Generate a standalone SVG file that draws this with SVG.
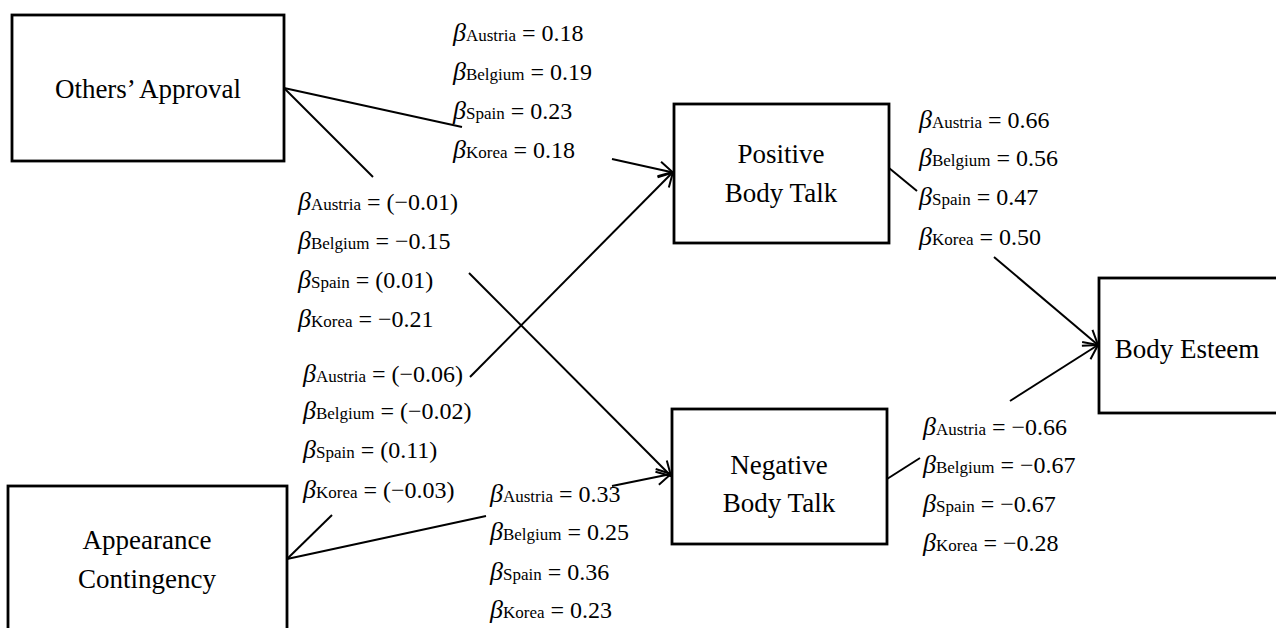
<svg xmlns="http://www.w3.org/2000/svg" width="1276" height="628" viewBox="0 0 1276 628">
<style>
.box{fill:#fff;stroke:#000;stroke-width:2.8}
.nt{font-family:"Liberation Serif",serif;font-size:27px;fill:#000;text-anchor:middle}
.lbl{font-family:"Liberation Serif",serif;font-size:24px;fill:#000}
.b{font-style:italic;font-size:26px}
.s{font-size:17px}
.ln{stroke:#000;stroke-width:2;fill:none}
</style>
<defs>
<marker id="arr" markerUnits="userSpaceOnUse" markerWidth="24" markerHeight="24" refX="16" refY="12" orient="auto" viewBox="0 0 24 24">
<path d="M2,4 L16,12 L2,20" fill="none" stroke="#000" stroke-width="2"/>
</marker>
</defs>
<rect width="1276" height="628" fill="#fff"/>
<g id="connectors">
<line class="ln" x1="284" y1="88" x2="462" y2="127"/>
<line class="ln" x1="612" y1="159" x2="673" y2="172.5" marker-end="url(#arr)"/>
<line class="ln" x1="284" y1="88" x2="373" y2="177"/>
<line class="ln" x1="469" y1="273" x2="671" y2="476" marker-end="url(#arr)"/>
<line class="ln" x1="287" y1="559" x2="332" y2="515"/>
<line class="ln" x1="470" y1="377" x2="673" y2="172" marker-end="url(#arr)"/>
<line class="ln" x1="287" y1="559" x2="486" y2="516"/>
<line class="ln" x1="612" y1="486" x2="671" y2="474" marker-end="url(#arr)"/>
<line class="ln" x1="889" y1="168" x2="917" y2="191"/>
<line class="ln" x1="994" y1="257" x2="1098" y2="345" marker-end="url(#arr)"/>
<line class="ln" x1="887" y1="479" x2="920" y2="458"/>
<line class="ln" x1="1010" y1="401" x2="1098" y2="345" marker-end="url(#arr)"/>
</g>
<g id="others-approval">
<rect class="box" x="12" y="15" width="272" height="146"/>
<text class="nt" x="148" y="98">Others’ Approval</text>
</g>
<g id="positive-body-talk">
<rect class="box" x="674" y="104" width="215" height="139"/>
<text class="nt" x="781" y="163">Positive</text>
<text class="nt" x="781" y="202">Body Talk</text>
</g>
<g id="negative-body-talk">
<rect class="box" x="672" y="409" width="215" height="135"/>
<text class="nt" x="779" y="474">Negative</text>
<text class="nt" x="779" y="512">Body Talk</text>
</g>
<g id="body-esteem">
<rect class="box" x="1099" y="278" width="180" height="135"/>
<text class="nt" x="1187" y="358">Body Esteem</text>
</g>
<g id="appearance-contingency">
<rect class="box" x="8" y="486" width="279" height="150"/>
<text class="nt" x="147" y="549">Appearance</text>
<text class="nt" x="147" y="588">Contingency</text>
</g>
<g id="labels">
<text class="lbl" x="453" y="41"><tspan class="b">β</tspan><tspan class="s">Austria</tspan> = 0.18</text>
<text class="lbl" x="453" y="80"><tspan class="b">β</tspan><tspan class="s">Belgium</tspan> = 0.19</text>
<text class="lbl" x="453" y="119"><tspan class="b">β</tspan><tspan class="s">Spain</tspan> = 0.23</text>
<text class="lbl" x="453" y="158"><tspan class="b">β</tspan><tspan class="s">Korea</tspan> = 0.18</text>

<text class="lbl" x="298" y="210"><tspan class="b">β</tspan><tspan class="s">Austria</tspan> = (−0.01)</text>
<text class="lbl" x="298" y="249"><tspan class="b">β</tspan><tspan class="s">Belgium</tspan> = −0.15</text>
<text class="lbl" x="298" y="288"><tspan class="b">β</tspan><tspan class="s">Spain</tspan> = (0.01)</text>
<text class="lbl" x="298" y="327"><tspan class="b">β</tspan><tspan class="s">Korea</tspan> = −0.21</text>

<text class="lbl" x="303" y="382"><tspan class="b">β</tspan><tspan class="s">Austria</tspan> = (−0.06)</text>
<text class="lbl" x="303" y="419"><tspan class="b">β</tspan><tspan class="s">Belgium</tspan> = (−0.02)</text>
<text class="lbl" x="303" y="458"><tspan class="b">β</tspan><tspan class="s">Spain</tspan> = (0.11)</text>
<text class="lbl" x="303" y="498"><tspan class="b">β</tspan><tspan class="s">Korea</tspan> = (−0.03)</text>

<text class="lbl" x="490" y="502"><tspan class="b">β</tspan><tspan class="s">Austria</tspan> = 0.33</text>
<text class="lbl" x="490" y="540"><tspan class="b">β</tspan><tspan class="s">Belgium</tspan> = 0.25</text>
<text class="lbl" x="490" y="580"><tspan class="b">β</tspan><tspan class="s">Spain</tspan> = 0.36</text>
<text class="lbl" x="490" y="618"><tspan class="b">β</tspan><tspan class="s">Korea</tspan> = 0.23</text>

<text class="lbl" x="919" y="128"><tspan class="b">β</tspan><tspan class="s">Austria</tspan> = 0.66</text>
<text class="lbl" x="919" y="166"><tspan class="b">β</tspan><tspan class="s">Belgium</tspan> = 0.56</text>
<text class="lbl" x="919" y="205"><tspan class="b">β</tspan><tspan class="s">Spain</tspan> = 0.47</text>
<text class="lbl" x="919" y="245"><tspan class="b">β</tspan><tspan class="s">Korea</tspan> = 0.50</text>

<text class="lbl" x="923" y="435"><tspan class="b">β</tspan><tspan class="s">Austria</tspan> = −0.66</text>
<text class="lbl" x="923" y="473"><tspan class="b">β</tspan><tspan class="s">Belgium</tspan> = −0.67</text>
<text class="lbl" x="923" y="512"><tspan class="b">β</tspan><tspan class="s">Spain</tspan> = −0.67</text>
<text class="lbl" x="923" y="551"><tspan class="b">β</tspan><tspan class="s">Korea</tspan> = −0.28</text>
</g>
</svg>
